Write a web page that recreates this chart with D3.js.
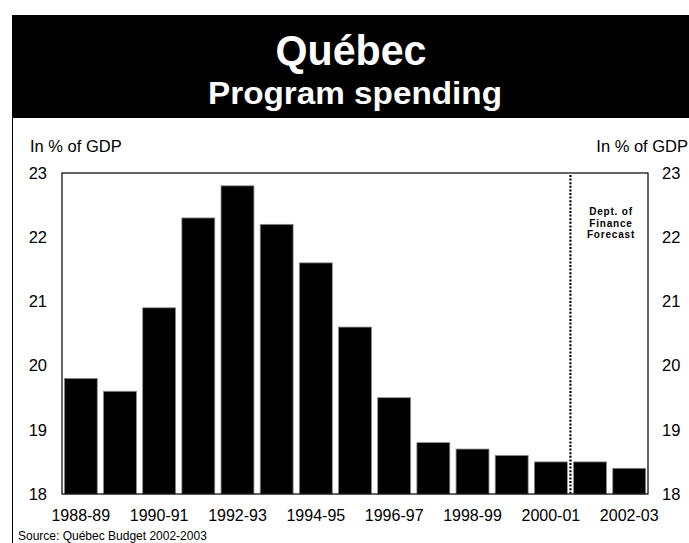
<!DOCTYPE html>
<html>
<head>
<meta charset="utf-8">
<script src="https://cdn.jsdelivr.net/npm/d3@7"></script>
<style>
  html, body { margin: 0; padding: 0; background: #fff; }
  svg { display: block; font-family: Arial, "Liberation Sans", Helvetica, sans-serif; }
</style>
</head>
<body>
<svg id="chart" width="689" height="543"></svg>
<script>
// Fiscal years and program spending as a share of GDP
const years = ["1988-89", "1989-90", "1990-91", "1991-92", "1992-93", "1993-94", "1994-95",
               "1995-96", "1996-97", "1997-98", "1998-99", "1999-00", "2000-01", "2001-02", "2002-03"];
const spending = [19.8, 19.6, 20.9, 22.3, 22.8, 22.2, 21.6, 20.6, 19.5, 18.8, 18.7, 18.6, 18.5, 18.5, 18.4];
const yTicks = [18, 19, 20, 21, 22, 23];
const xLabels = ["1988-89", "1990-91", "1992-93", "1994-95", "1996-97", "1998-99", "2000-01", "2002-03"];
const forecastStart = "2001-02";
const forecastNote = ["Dept. of", "Finance", "Forecast"];

const svg = d3.select("#chart");
const W = 689, H = 543;
const plot = { left: 62, right: 648, top: 173, bottom: 494 };

// Outer frame and black title banner
svg.append("rect").attr("x", 12.5).attr("y", 15.5).attr("width", W).attr("height", H)
  .attr("fill", "none").attr("stroke", "#000").attr("stroke-width", 1);
svg.append("rect").attr("x", 12).attr("y", 15).attr("width", W - 12).attr("height", 103)
  .attr("fill", "#000");
svg.append("text").attr("x", 351).attr("y", 65).attr("text-anchor", "middle")
  .attr("fill", "#fff").attr("font-weight", "bold").attr("font-size", 42)
  .attr("textLength", 151).attr("lengthAdjust", "spacingAndGlyphs")
  .text("Québec");
svg.append("text").attr("x", 355).attr("y", 104).attr("text-anchor", "middle")
  .attr("fill", "#fff").attr("font-weight", "bold").attr("font-size", 31)
  .attr("textLength", 294).attr("lengthAdjust", "spacingAndGlyphs")
  .text("Program spending");

// Scales
const x = d3.scaleBand().domain(years).range([plot.left, plot.right])
  .paddingInner(0.16).paddingOuter(0.06);
const y = d3.scaleLinear().domain([18, 23]).range([plot.bottom, plot.top]);

// Bars
svg.append("g").selectAll("rect").data(spending).join("rect")
  .attr("x", (d, i) => x(years[i]))
  .attr("y", d => y(d))
  .attr("width", x.bandwidth())
  .attr("height", d => y(18) - y(d))
  .attr("fill", "#000")
  .attr("stroke", "#8a8a8a").attr("stroke-width", 0.8);

// Plot frame
svg.append("rect").attr("x", plot.left).attr("y", plot.top)
  .attr("width", plot.right - plot.left).attr("height", plot.bottom - plot.top)
  .attr("fill", "none").attr("stroke", "#000").attr("stroke-width", 1.2);

// Forecast divider
const step = x.step();
const divX = x(forecastStart) - (step - x.bandwidth()) / 2;
svg.append("line").attr("x1", divX).attr("x2", divX)
  .attr("y1", plot.top + 2).attr("y2", plot.bottom)
  .attr("stroke", "#000").attr("stroke-width", 2.2).attr("stroke-dasharray", "2,1.6");
svg.append("g").selectAll("text").data(forecastNote).join("text")
  .attr("x", 611).attr("y", (d, i) => 215 + i * 11.5)
  .attr("text-anchor", "middle").attr("font-size", 10).attr("font-weight", "bold")
  .attr("letter-spacing", 0.8).attr("fill", "#000")
  .text(d => d);

// Left and right value axes (labels only)
const leftAxis = d3.axisLeft(y).tickValues(yTicks).tickSize(0).tickPadding(15).tickFormat(d3.format("d"));
const rightAxis = d3.axisRight(y).tickValues(yTicks).tickSize(0).tickPadding(14).tickFormat(d3.format("d"));
const gl = svg.append("g").attr("transform", `translate(${plot.left},0)`).call(leftAxis);
const gr = svg.append("g").attr("transform", `translate(${plot.right},0)`).call(rightAxis);
[gl, gr].forEach(g => {
  g.select(".domain").remove();
  g.selectAll("text").attr("font-size", 16.5).attr("fill", "#000")
    .attr("font-family", "Arial, 'Liberation Sans', sans-serif");
});

// Category axis, every other year labelled
const bottomAxis = d3.axisBottom(x).tickValues(xLabels).tickSize(0).tickPadding(16);
const gb = svg.append("g").attr("transform", `translate(0,${plot.bottom})`).call(bottomAxis);
gb.select(".domain").remove();
gb.selectAll("text").attr("font-size", 16).attr("fill", "#000")
  .attr("font-family", "Arial, 'Liberation Sans', sans-serif");

// Unit captions
svg.append("text").attr("x", 30).attr("y", 152).attr("font-size", 16.5).attr("fill", "#000")
  .text("In % of GDP");
svg.append("text").attr("x", 688).attr("y", 152).attr("text-anchor", "end")
  .attr("font-size", 16.5).attr("fill", "#000").text("In % of GDP");

// Source note
svg.append("text").attr("x", 18).attr("y", 540).attr("font-size", 12).attr("fill", "#000")
  .text("Source: Québec Budget 2002-2003");
</script>
</body>
</html>
